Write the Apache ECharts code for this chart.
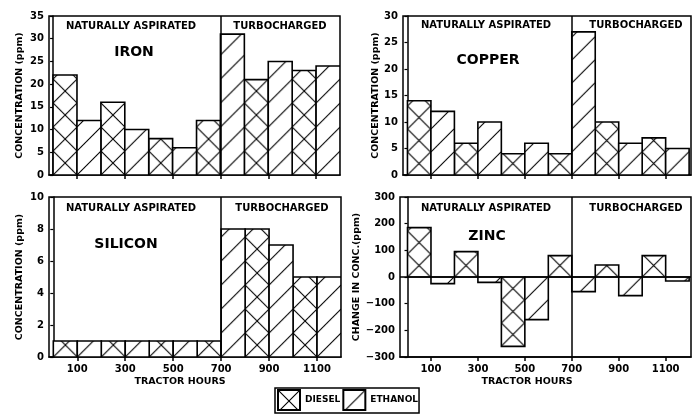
<!DOCTYPE html>
<html>
<head>
<meta charset="utf-8">
<script src="https://cdn.jsdelivr.net/npm/echarts@6/dist/echarts.min.js"></script>
<style>
html, body { margin: 0; padding: 0; background: #fff; }
#main { width: 692px; height: 414px; }
</style>
</head>
<body>
<div id="main"></div>
<script>
// each bar covers 100 tractor hours, starting at these values
var binStart = [0, 100, 200, 300, 400, 500, 600, 700, 800, 900, 1000, 1100];
var fuel = ['DIESEL', 'ETHANOL', 'DIESEL', 'ETHANOL', 'DIESEL', 'ETHANOL',
	'DIESEL', 'ETHANOL', 'DIESEL', 'ETHANOL', 'DIESEL', 'ETHANOL'];
var iron = [22, 12, 16, 10, 8, 6, 12, 31, 21, 25, 23, 24];
var copper = [14, 12, 6, 10, 4, 6, 4, 27, 10, 6, 7, 5];
var silicon = [1, 1, 1, 1, 1, 1, 1, 8, 8, 7, 5, 5];
var zinc = [185, -25, 95, -20, -260, -160, 80, -55, 45, -70, 80, -15];
var xTicks = [100, 300, 500, 700, 900, 1100];
var sectionBreak = 700;

var FONT = 'DejaVu Sans';

// hatch tiles
var tileCache = {};
function tile(kind, size) {
	var key = kind + size;
	if (tileCache[key]) return tileCache[key];
	var c = document.createElement('canvas');
	c.width = size;
	c.height = size;
	var g = c.getContext('2d');
	g.fillStyle = '#fff';
	g.fillRect(0, 0, size, size);
	g.strokeStyle = '#000';
	g.lineWidth = 1.1;
	g.beginPath();
	[-size, 0, size].forEach(function(o) {
		g.moveTo(o, size);
		g.lineTo(o + size, 0);
		if (kind === 'DIESEL') {
			g.moveTo(o, 0);
			g.lineTo(o + size, size);
		}
	});
	g.stroke();
	tileCache[key] = c;
	return c;
}

function renderBar(params, api) {
	var x0 = api.value(0);
	var v = api.value(1);
	var p0 = api.coord([x0, 0]);
	var p1 = api.coord([x0 + 100, v]);
	var w = p1[0] - p0[0];
	var size = Math.max(4, Math.round(w));
	return {
		type: 'rect',
		shape: { x: p0[0], y: Math.min(p0[1], p1[1]), width: w, height: Math.abs(p1[1] - p0[1]) },
		style: {
			fill: { image: tile(params.seriesName, size), repeat: 'repeat', x: p0[0], y: p0[1] },
			stroke: '#000',
			lineWidth: 1.6
		}
	};
}

var panels = [
	{ name: 'IRON', values: iron, grid: { left: 49, top: 16, width: 291, height: 159 },
		xMin: -17, xMax: 1200, yMin: 0, yMax: 35, step: 5, yName: 'CONCENTRATION (ppm)', gap: 24, labels: false },
	{ name: 'COPPER', values: copper, grid: { left: 403, top: 16, width: 288, height: 159 },
		xMin: -19, xMax: 1208, yMin: 0, yMax: 30, step: 5, yName: 'CONCENTRATION (ppm)', gap: 20, labels: false },
	{ name: 'SILICON', values: silicon, grid: { left: 49, top: 197, width: 292, height: 160 },
		xMin: -18, xMax: 1200, yMin: 0, yMax: 10, step: 2, yName: 'CONCENTRATION (ppm)', gap: 24, labels: true },
	{ name: 'ZINC', values: zinc, grid: { left: 400, top: 197, width: 291, height: 160 },
		xMin: -32, xMax: 1208, yMin: -300, yMax: 300, step: 100, yName: 'CHANGE IN CONC.(ppm)', gap: 35, labels: true }
];

var grids = [], xAxes = [], yAxes = [], series = [];
panels.forEach(function(p, i) {
	grids.push(Object.assign({ show: true, borderColor: '#000', borderWidth: 1.5, containLabel: false }, p.grid));
	xAxes.push({
		type: 'value', gridIndex: i, min: p.xMin, max: p.xMax,
		axisLine: { onZero: false, lineStyle: { color: '#000', width: 1.5 } },
		axisTick: { customValues: xTicks, length: 4, lineStyle: { color: '#000', width: 1.5 } },
		axisLabel: { show: p.labels, customValues: xTicks, color: '#000', fontFamily: FONT,
			fontWeight: 'bold', fontSize: 10, margin: 7,
			formatter: function(v) { return String(v); } },
		splitLine: { show: false }
	});
	yAxes.push({
		type: 'value', gridIndex: i, min: p.yMin, max: p.yMax, interval: p.step,
		name: p.yName, nameLocation: 'middle', nameGap: p.gap,
		nameTextStyle: { color: '#000', fontFamily: FONT, fontWeight: 'bold', fontSize: 9.5 },
		axisLine: { show: true, lineStyle: { color: '#000', width: 1.5 } },
		axisTick: { show: true, length: 3, lineStyle: { color: '#000', width: 1.2 } },
		axisLabel: { color: '#000', fontFamily: FONT, fontWeight: 'bold', fontSize: 10, margin: 5,
			formatter: function(v) { return v < 0 ? '\u2212' + (-v) : String(v); } },
		splitLine: { show: false }
	});
	['DIESEL', 'ETHANOL'].forEach(function(f, k) {
		var data = [];
		binStart.forEach(function(x, j) {
			if (fuel[j] === f) data.push([x, p.values[j]]);
		});
		var s = {
			name: f, type: 'custom', xAxisIndex: i, yAxisIndex: i,
			renderItem: renderBar, data: data, clip: true,
			itemStyle: { color: { image: tile(f, 22), repeat: 'repeat' }, borderColor: '#000', borderWidth: 1.5 }
		};
		if (k === 0) {
			var lines = [{ xAxis: sectionBreak }];
			if (p.yMin < 0) lines.push({ yAxis: 0 });
			s.markLine = { silent: true, symbol: 'none', label: { show: false },
				lineStyle: { color: '#000', width: 1.5, type: 'solid' }, data: lines };
		}
		series.push(s);
	});
});

// panel text (positions in pixels)
var texts = [
	['NATURALLY ASPIRATED', 131, 26, 10], ['TURBOCHARGED', 280, 26, 10], ['IRON', 134, 52, 14],
	['NATURALLY ASPIRATED', 486, 25, 10], ['TURBOCHARGED', 636, 25, 10], ['COPPER', 488, 60, 14],
	['NATURALLY ASPIRATED', 131, 208, 10], ['TURBOCHARGED', 282, 208, 10], ['SILICON', 126, 244, 14],
	['NATURALLY ASPIRATED', 486, 208, 10], ['TURBOCHARGED', 636, 208, 10], ['ZINC', 487, 236, 14],
	['TRACTOR HOURS', 180, 382, 9.5], ['TRACTOR HOURS', 527, 382, 9.5]
];
var graphics = texts.map(function(t) {
	return {
		type: 'text', x: t[1], y: t[2],
		style: { text: t[0], fill: '#000', font: 'bold ' + t[3] + 'px "' + FONT + '"',
			textAlign: 'center', textVerticalAlign: 'middle' }
	};
});

var myChart = echarts.init(document.getElementById('main'), null, { renderer: 'canvas' });
var option = {
	animation: false,
	backgroundColor: '#fff',
	grid: grids,
	xAxis: xAxes,
	yAxis: yAxes,
	series: series,
	graphic: graphics,
	legend: {
		data: ['DIESEL', 'ETHANOL'],
		left: 275, top: 388,
		icon: 'rect', itemWidth: 22, itemHeight: 20, itemGap: 2,
		padding: [1, 1, 2, 2],
		borderColor: '#000', borderWidth: 1.5,
		textStyle: { color: '#000', fontFamily: FONT, fontWeight: 'bold', fontSize: 9 },
		selectedMode: false
	}
};
myChart.setOption(option);
</script>
</body>
</html>
